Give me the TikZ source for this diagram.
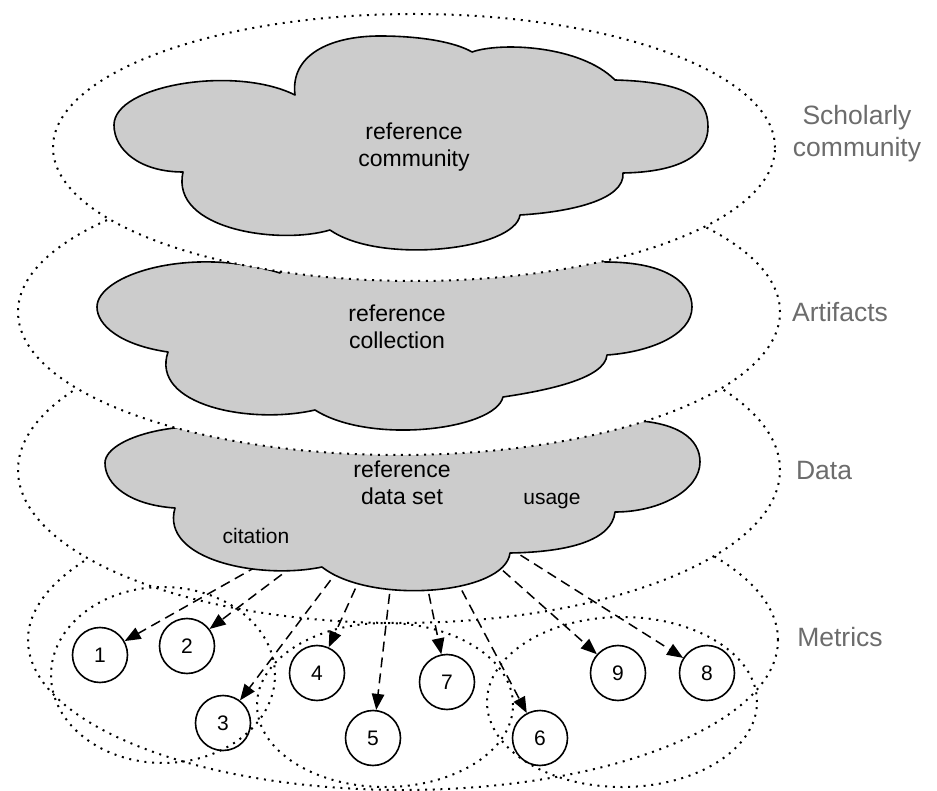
\documentclass[tikz,border=0pt]{standalone}
\usepackage{fontspec}
\setmainfont{Liberation Sans}
\usetikzlibrary{arrows.meta}
\definecolor{cloudgray}{RGB}{204,204,204}
\definecolor{labelgray}{RGB}{108,108,108}
\tikzset{
  layerring/.style={line width=2pt, dash pattern=on 2pt off 5.7pt, fill=white},
  groupring/.style={line width=2pt, dash pattern=on 2pt off 5.7pt},
  cloudshape/.style={fill=cloudgray, draw=black, line width=1.6pt, line join=round},
  metric/.style={circle, draw, line width=1.6pt, fill=white, minimum size=55pt,
    inner sep=0pt, font=\fontsize{21}{24}\selectfont},
  flow/.style={line width=1.5pt, dash pattern=on 10pt off 6pt,
    -{Triangle[length=16pt,width=12.5pt]}},
  cloudtext/.style={align=center, font=\fontsize{23}{26.7}\selectfont},
  tagtext/.style={font=\fontsize{21}{25}\selectfont},
  layertext/.style={align=center, text=labelgray, font=\fontsize{26.5}{32}\selectfont},
}
\begin{document}
\begin{tikzpicture}[x=1pt,y=-1pt]
\useasboundingbox (0,0) rectangle (937,791);

% metrics layer
\path[layerring, draw] (403,640) ellipse [x radius=375pt, y radius=150pt];

% individual metrics
\node[metric] (n1) at (100,655) {1};
\node[metric] (n2) at (187,646) {2};
\node[metric] (n3) at (223,723) {3};
\node[metric] (n4) at (317,673) {4};
\node[metric] (n5) at (373,738) {5};
\node[metric] (n6) at (540,738) {6};
\node[metric] (n7) at (447,682) {7};
\node[metric] (n8) at (707,673) {8};
\node[metric] (n9) at (618,673) {9};

% data layer
\path[layerring, draw] (399,470) ellipse [x radius=381pt, y radius=153pt];

% metric groups
\draw[groupring] (163,675) ellipse [x radius=112pt, y radius=88pt];
\draw[groupring] (385,705) ellipse [x radius=128pt, y radius=82pt];
\draw[groupring] (622,702) ellipse [x radius=135pt, y radius=85pt];

% sources of the derivations, on the rim of the data set cloud
\coordinate (s1) at (257.5,566);
\coordinate (s2) at (294.6,564.8);
\coordinate (s3) at (340.2,567.4);
\coordinate (s4) at (362,574);
\coordinate (s5) at (391.4,578);
\coordinate (s7) at (425.6,578.2);
\coordinate (s6) at (454.4,576.4);
\coordinate (s9) at (491,560);
\coordinate (s8) at (507,546.6);

\draw[flow] (s1) -- (n1);
\draw[flow] (s2) -- (n2);
\draw[flow] (s3) -- (n3);
\draw[flow] (s4) -- (n4);
\draw[flow] (s5) -- (n5);
\draw[flow] (s7) -- (n7);
\draw[flow] (s6) -- (n6);
\draw[flow] (s9) -- (n9);
\draw[flow] (s8) -- (n8);

% reference data set cloud
\path[cloudshape] (175,508) .. controls (130,505) and (105,485) .. (105,463)
  .. controls (105,435) and (200,410) .. (280,440)
  .. controls (285,405) and (450,395) .. (470,420)
  .. controls (520,400) and (600,400) .. (620,420)
  .. controls (680,420) and (700,440) .. (700,462)
  .. controls (700,490) and (660,512) .. (615,512)
  .. controls (612,540) and (570,552) .. (510,553)
  .. controls (505,595) and (370,605) .. (322,567)
  .. controls (260,580) and (160,560) .. (175,508) -- cycle;

% artifacts layer
\path[layerring, draw] (399,312) ellipse [x radius=381pt, y radius=143pt];

% reference collection cloud
\path[cloudshape] (168,352) .. controls (120,345) and (97,325) .. (97,307)
  .. controls (97,275) and (190,245) .. (280,273)
  .. controls (285,235) and (430,220) .. (470,245)
  .. controls (520,230) and (590,240) .. (605,262)
  .. controls (670,262) and (692,285) .. (692,307)
  .. controls (692,335) and (650,352) .. (607,355)
  .. controls (605,378) and (550,390) .. (503,397)
  .. controls (495,430) and (370,445) .. (315,410)
  .. controls (250,425) and (150,405) .. (168,352) -- cycle;

% scholarly community layer
\path[layerring, draw] (414,147.5) ellipse [x radius=361pt, y radius=133.5pt];

% reference community cloud
\path[cloudshape] (183,172) .. controls (140,172) and (114,150) .. (114,125)
  .. controls (114,85) and (235,65) .. (295,95)
  .. controls (290,55) and (330,36) .. (380,36)
  .. controls (420,36) and (455,42) .. (472,52)
  .. controls (500,42) and (580,45) .. (615,80)
  .. controls (690,82) and (708,100) .. (708,127)
  .. controls (708,155) and (680,172) .. (623,173)
  .. controls (625,200) and (570,212) .. (520,215)
  .. controls (515,250) and (380,265) .. (330,230)
  .. controls (280,245) and (170,230) .. (183,172) -- cycle;

% cloud captions
\node[cloudtext] (community) at (414,147) {reference\\community};
\node[cloudtext] (collection) at (397,326.5) {reference\\collection};
\node[cloudtext] (dataset) at (402,483) {reference\\data set};
\node[tagtext] (citation) at (256,536) {citation};
\node[tagtext] (usage) at (552,501.5) {usage};

% layer names
\node[layertext] (lscholarly) at (857,134) {Scholarly\\community};
\node[layertext] (lartifacts) at (840,312) {Artifacts};
\node[layertext] (ldata) at (824,471) {Data};
\node[layertext] (lmetrics) at (840,637) {Metrics};
\end{tikzpicture}
\end{document}
